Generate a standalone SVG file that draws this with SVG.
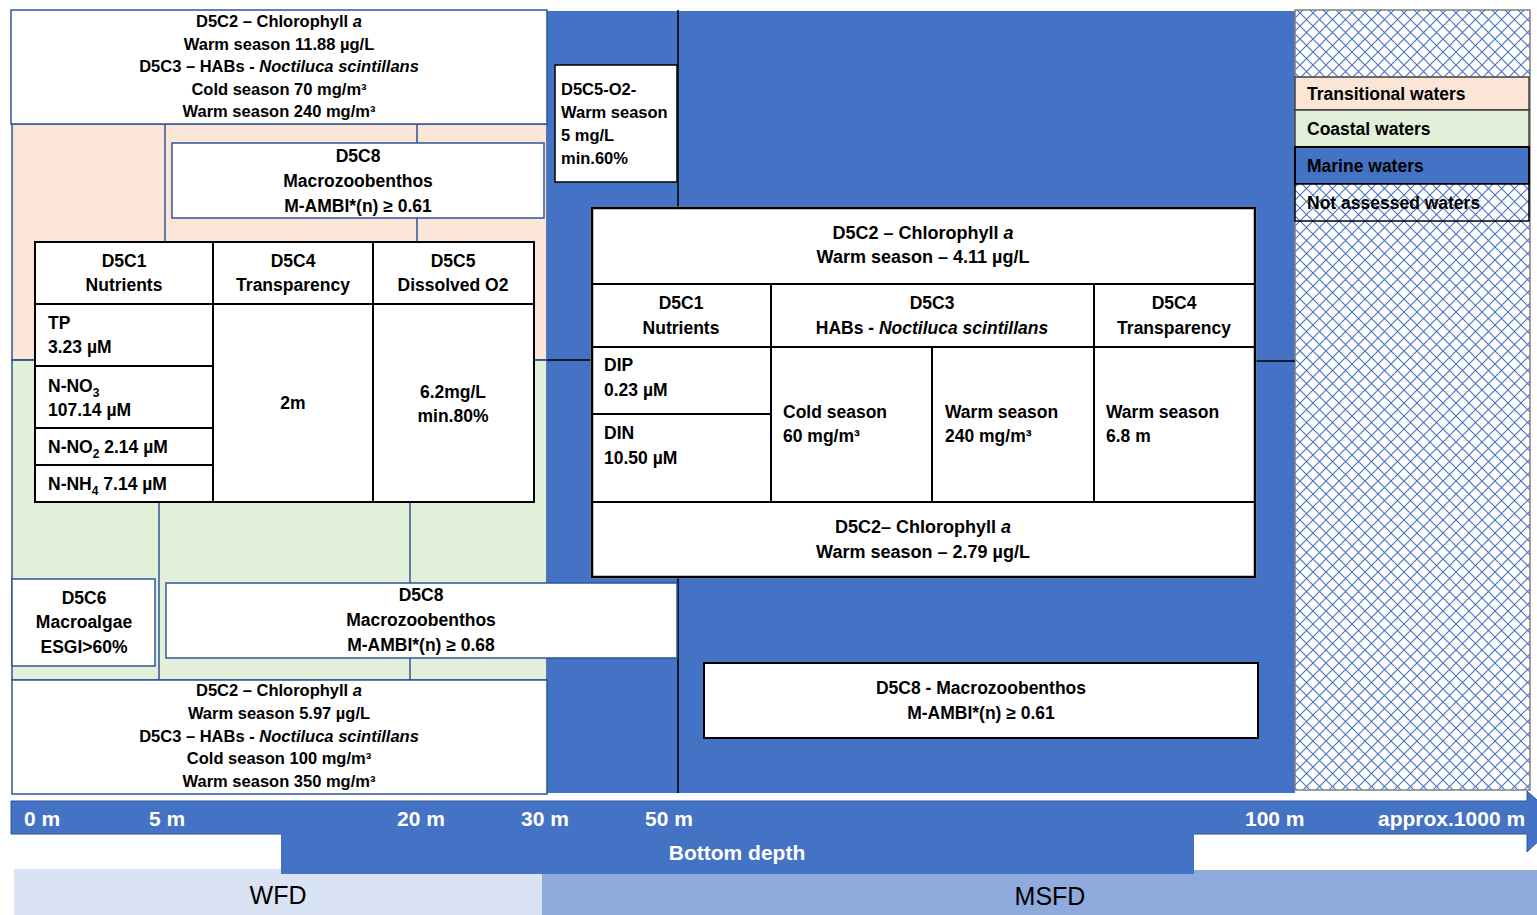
<svg xmlns="http://www.w3.org/2000/svg" width="1537" height="915" viewBox="0 0 1537 915">
<defs>
<pattern id="hatch" width="13" height="13" patternUnits="userSpaceOnUse">
<rect width="13" height="13" fill="#fff"/>
<path d="M0,0 L13,13 M13,0 L0,13" stroke="#4472C4" stroke-width="1.1" fill="none"/>
</pattern>
<style>
text{font-family:"Liberation Sans",Arial,sans-serif;font-weight:bold;fill:#000;}
.c{text-anchor:middle;}
.s16{font-size:16.5px;}
.s17{font-size:17.5px;}
.s18{font-size:18px;}
.w{fill:#fff;font-size:21px;}
.big{font-weight:normal;font-size:25px;}
.bb{fill:#fff;stroke:#2F5597;stroke-width:1.5;}
.bk{fill:#fff;stroke:#000;stroke-width:2;}
.grid{stroke:#000;stroke-width:2;fill:none;}
.dl{stroke:#2F5597;stroke-width:1.5;fill:none;}
.dk{stroke:#000;stroke-width:1.5;fill:none;}
</style>
</defs>
<rect width="1537" height="915" fill="#fff"/>

<g id="zones">
<rect x="12" y="124" width="535" height="236" fill="#FBE5D6" stroke="#2F5597" stroke-width="1.5"/>
<rect x="12" y="360" width="535" height="320" fill="#E2F0D9" stroke="#2F5597" stroke-width="1.5"/>
<rect x="547" y="11" width="748" height="782" fill="#4472C4"/>
<rect x="1295" y="10" width="235" height="780" fill="url(#hatch)" stroke="#808080" stroke-width="1.5"/>
</g>

<g id="connectors">
<line class="dl" x1="165" y1="124" x2="165" y2="242"/>
<line class="dl" x1="417" y1="124" x2="417" y2="242"/>
<line class="dl" x1="159" y1="502" x2="159" y2="680"/>
<line class="dl" x1="410" y1="502" x2="410" y2="680"/>
<line class="dl" x1="12" y1="360" x2="547" y2="360"/>
<line class="dk" x1="547" y1="360" x2="592" y2="360"/>
<line class="dk" x1="1255" y1="361" x2="1295" y2="361"/>
<line class="dk" x1="678" y1="10" x2="678" y2="793"/>
</g>

<g id="tw-top">
<rect class="bb" x="11" y="10" width="536" height="114"/>
<text class="c s16" x="279" y="27">D5C2 – Chlorophyll <tspan font-style="italic">a</tspan></text>
<text class="c s16" x="279" y="50">Warm season 11.88 µg/L</text>
<text class="c s16" x="279" y="72">D5C3 – HABs -  <tspan font-style="italic">Noctiluca scintillans</tspan></text>
<text class="c s16" x="279" y="95">Cold season 70 mg/m³</text>
<text class="c s16" x="279" y="117">Warm season 240 mg/m³</text>
</g>

<g id="tw-d5c8">
<rect class="bb" x="172" y="143" width="372" height="75"/>
<text class="c s17" x="358" y="162">D5C8</text>
<text class="c s17" x="358" y="187">Macrozoobenthos</text>
<text class="c s17" x="358" y="212">M-AMBI*(n) ≥ 0.61</text>
</g>

<g id="wfd-table">
<rect x="35" y="242" width="499" height="260" fill="#fff"/>
<path class="grid" d="M35,242 H534 V502 H35 Z M35,304 H534 M213,242 V502 M373,242 V502 M35,366 H213 M35,428 H213 M35,465 H213"/>
<text class="c s17" x="124" y="267">D5C1</text>
<text class="c s17" x="124" y="291">Nutrients</text>
<text class="c s17" x="293" y="267">D5C4</text>
<text class="c s17" x="293" y="291">Transparency</text>
<text class="c s17" x="453" y="267">D5C5</text>
<text class="c s17" x="453" y="291">Dissolved O2</text>
<text class="s17" x="48" y="329">TP</text>
<text class="s17" x="48" y="353">3.23 µM</text>
<text class="s17" x="48" y="392">N-NO<tspan font-size="12" dy="5">3</tspan></text>
<text class="s17" x="48" y="416">107.14 µM</text>
<text class="s17" x="48" y="453">N-NO<tspan font-size="12" dy="5">2</tspan><tspan dy="-5"> 2.14 µM</tspan></text>
<text class="s17" x="48" y="490">N-NH<tspan font-size="12" dy="5">4</tspan><tspan dy="-5"> 7.14 µM</tspan></text>
<text class="c s17" x="293" y="409">2m</text>
<text class="c s17" x="453" y="398">6.2mg/L</text>
<text class="c s17" x="453" y="422">min.80%</text>
</g>

<g id="d5c5-o2">
<rect x="555" y="65" width="122" height="117" fill="#fff" stroke="#000" stroke-width="1.5"/>
<text class="s16" x="561" y="95">D5C5-O2-</text>
<text class="s16" x="561" y="118">Warm season</text>
<text class="s16" x="561" y="141">5 mg/L</text>
<text class="s16" x="561" y="164">min.60%</text>
</g>

<g id="msfd-table">
<rect x="592" y="208" width="663" height="369" fill="#fff" stroke="#7F7F7F" stroke-width="3"/>
<path class="grid" d="M592,208 H1255 V577 H592 Z M592,284 H1255 M592,347 H1255 M592,502 H1255 M771,284 V502 M1094,284 V502 M932,347 V502 M592,414 H771"/>
<text class="c s18" x="923" y="239">D5C2 – Chlorophyll <tspan font-style="italic">a</tspan></text>
<text class="c s18" x="923" y="263">Warm season – 4.11 µg/L</text>
<text class="c s17" x="681" y="309">D5C1</text>
<text class="c s17" x="681" y="334">Nutrients</text>
<text class="c s17" x="932" y="309">D5C3</text>
<text class="c s17" x="932" y="334">HABs - <tspan font-style="italic">Noctiluca scintillans</tspan></text>
<text class="c s17" x="1174" y="309">D5C4</text>
<text class="c s17" x="1174" y="334">Transparency</text>
<text class="s17" x="604" y="371">DIP</text>
<text class="s17" x="604" y="396">0.23 µM</text>
<text class="s17" x="604" y="439">DIN</text>
<text class="s17" x="604" y="464">10.50 µM</text>
<text class="s17" x="783" y="418">Cold season</text>
<text class="s17" x="783" y="442">60 mg/m³</text>
<text class="s17" x="945" y="418">Warm season</text>
<text class="s17" x="945" y="442">240 mg/m³</text>
<text class="s17" x="1106" y="418">Warm season</text>
<text class="s17" x="1106" y="442">6.8 m</text>
<text class="c s18" x="923" y="533">D5C2– Chlorophyll <tspan font-style="italic">a</tspan></text>
<text class="c s18" x="923" y="558">Warm season – 2.79 µg/L</text>
</g>

<g id="cw-d5c6">
<rect class="bb" x="12" y="579" width="143" height="87"/>
<text class="c s17" x="84" y="604">D5C6</text>
<text class="c s17" x="84" y="628">Macroalgae</text>
<text class="c s17" x="84" y="653">ESGI&gt;60%</text>
</g>

<g id="cw-d5c8">
<rect class="bb" x="166" y="583" width="511" height="75"/>
<text class="c s17" x="421" y="601">D5C8</text>
<text class="c s17" x="421" y="626">Macrozoobenthos</text>
<text class="c s17" x="421" y="651">M-AMBI*(n) ≥ 0.68</text>
</g>

<g id="cw-bottom">
<rect class="bb" x="12" y="680" width="535" height="114"/>
<text class="c s16" x="279" y="696">D5C2 – Chlorophyll <tspan font-style="italic">a</tspan></text>
<text class="c s16" x="279" y="719">Warm season 5.97 µg/L</text>
<text class="c s16" x="279" y="742">D5C3 – HABs - <tspan font-style="italic">Noctiluca scintillans</tspan></text>
<text class="c s16" x="279" y="764">Cold season 100 mg/m³</text>
<text class="c s16" x="279" y="787">Warm season 350 mg/m³</text>
</g>

<g id="mw-d5c8">
<rect class="bk" x="704" y="663" width="554" height="75" stroke-width="1.5"/>
<text class="c s17" x="981" y="694">D5C8 - Macrozoobenthos</text>
<text class="c s17" x="981" y="719">M-AMBI*(n) ≥ 0.61</text>
</g>

<g id="legend">
<rect x="1295" y="77" width="234" height="33" fill="#FBE5D6" stroke="#404040" stroke-width="1.5"/>
<rect x="1295" y="110" width="234" height="37" fill="#E2F0D9" stroke="#404040" stroke-width="1.5"/>
<rect x="1295" y="147" width="234" height="37" fill="#4472C4" stroke="#000" stroke-width="2"/>
<rect x="1295" y="184" width="234" height="37" fill="url(#hatch)" stroke="#000" stroke-width="1.5"/>
<text class="s17" x="1307" y="100">Transitional waters</text>
<text class="s17" x="1307" y="135">Coastal waters</text>
<text class="s17" x="1307" y="172">Marine waters</text>
<text class="s17" x="1307" y="209">Not assessed waters</text>
</g>

<g id="directives">
<rect x="14" y="869" width="528" height="46" fill="#DAE3F3"/>
<rect x="542" y="870" width="995" height="45" fill="#8FAADC"/>
<text class="c big" x="278" y="904">WFD</text>
<text class="c big" x="1050" y="905">MSFD</text>
</g>

<g id="depth-axis">
<path d="M11,801 H1527 V791 L1560,821 L1527,852 V834 H11 Z" fill="#4472C4" stroke="#2F5597" stroke-width="1"/>
<rect x="281" y="833" width="913" height="41" fill="#4472C4"/>
<text class="w" x="24" y="826">0 m</text>
<text class="w" x="149" y="826">5 m</text>
<text class="w" x="397" y="826">20 m</text>
<text class="w" x="521" y="826">30 m</text>
<text class="w" x="645" y="826">50 m</text>
<text class="w" x="1245" y="826">100 m</text>
<text class="w" x="1378" y="826">approx.1000 m</text>
<text class="w c" x="737" y="860">Bottom depth</text>
</g>
</svg>
